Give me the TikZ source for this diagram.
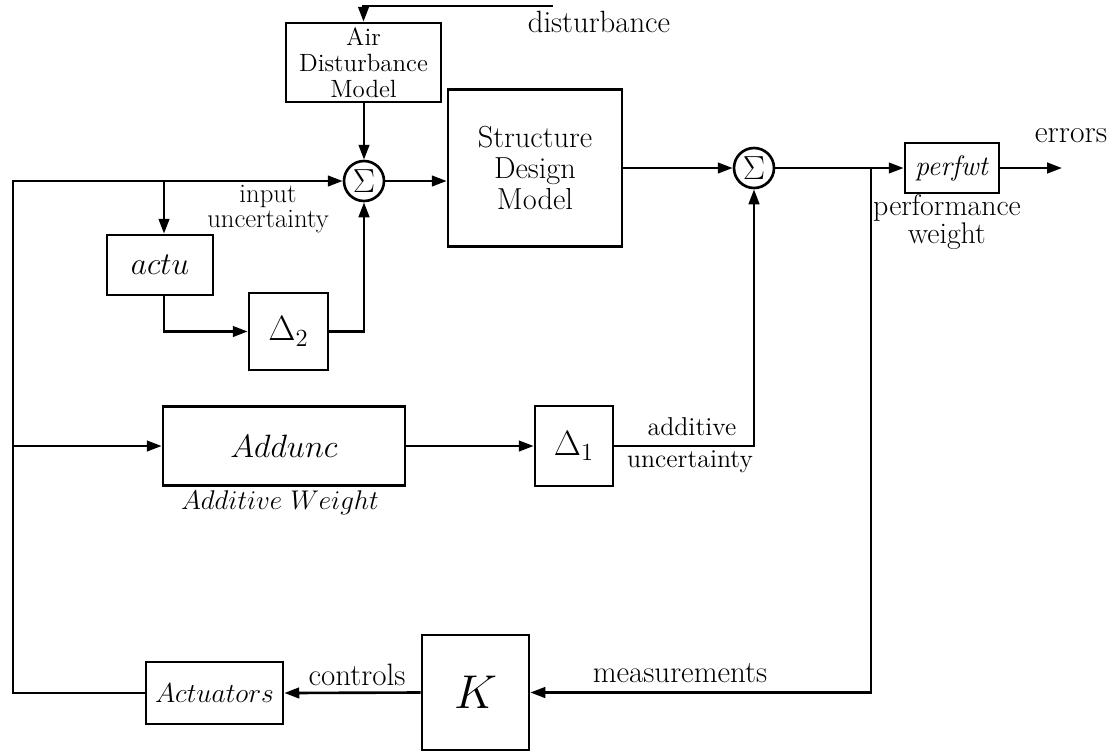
\RequirePackage{fix-cm}
\documentclass[tikz,border=0pt]{standalone}
\usetikzlibrary{arrows.meta,calc}
\newcommand\fs[2]{\fontsize{#1}{#2}\selectfont}
\begin{document}
\begin{tikzpicture}[x=0.02cm,y=-0.02cm,line width=1.5pt,
  blk/.style n args={2}{draw,line width=1.5pt,inner sep=0pt,minimum width=#1*0.02cm,minimum height=#2*0.02cm},
  sum/.style={circle,draw,line width=1.5pt,minimum size=40*0.02cm,inner sep=0pt,font=\fs{19}{19}},
  ar/.style={-{Triangle[length=8.5pt,width=6pt]}}]
\path[use as bounding box] (0,0) rectangle (1119,752);
% blocks
\node[blk={155}{79}, align=center, font=\fs{14.2}{14.8}] (air) at (363.5,62.5) {Air\\Disturbance\\Model};
\node[blk={174}{157}, align=center, font=\fs{17.3}{17.6}] (sdm) at (535,168) {Structure\\Design\\Model};
\node[sum] (s1) at (364,181) {$\Sigma$};
\node[sum] (s2) at (754,168) {$\Sigma$};
\node[blk={106}{60}, font=\fs{18}{18}] (actu) at (160,265) {$actu$};
\node[blk={79}{77}, font=\fs{20}{20}] (d2) at (288.5,331.5) {$\Delta_2$};
\node[blk={242}{79}, font=\fs{18.4}{18.4}] (add) at (284,446) {$Addunc$};
\node[blk={78}{80}, font=\fs{20}{20}] (d1) at (574,446) {$\Delta_1$};
\node[blk={94}{50}, font=\fs{16}{16}] (pw) at (952,168) {\textit{perfwt}};
\node[blk={137}{62}, font=\fs{15.6}{15.6}] (act) at (214.5,693) {$Actuators$};
\node[blk={107}{115}, font=\fs{27}{27}] (K) at (475.5,692.5) {$K$};
% labels
\node[font=\fs{17.5}{17.5}] (ldist) at (599,22) {disturbance};
\node[align=center,font=\fs{15.2}{14.2}] (lin) at (268,209) {input\\uncertainty};
\node[font=\fs{18}{18}] (lerr) at (1071,136) {errors};
\node[align=center,font=\fs{17}{14.5}] (lpw) at (947,222) {performance\\weight};
\node[font=\fs{14.7}{14.7}] (ladd) at (692,427) {additive};
\node[font=\fs{14.7}{14.7}] (lunc) at (690,462) {uncertainty};
\node[font=\fs{15.4}{15.4}] (law) at (280,503) {$Additive\ Weight$};
\node[font=\fs{17.6}{17.6}] (lctl) at (357,675) {controls};
\node[font=\fs{17.6}{17.6}] (lmeas) at (680,673) {measurements};
% coordinates
\coordinate (dstart) at (553,6);
\coordinate (L1) at (13,181);
\coordinate (L2) at (13,446);
\coordinate (L3) at (13,693);
\coordinate (b1) at (164,181);
\coordinate (b2) at (871,168);
\coordinate (eend) at (1062,168);
% connectors
\draw[ar] (dstart) -| (air.north);
\draw[ar] (s1.north|-air.south) -- (s1.north);
\draw[ar] (act.west) -- (L3) -- (L1) -- (s1.west);
\draw[ar] (L2) -- (add.west);
\draw[ar] (b1) -- (b1|-actu.north);
\draw[ar] (b1|-actu.south) |- (d2.west);
\draw[ar] (d2.east) -| (s1.south);
\draw[ar] (s1.east) -- (s1.east-|sdm.west);
\draw[ar] (s2.west-|sdm.east) -- (s2.west);
\draw[ar] (s2.east) -- (pw.west);
\draw[ar] (pw.east) -- (eend);
\draw[ar] (b2) |- (K.east);
\draw[ar] (K.west) -- (act.east);
\draw[ar] (add.east) -- (d1.west);
\draw[ar] (d1.east) -| (s2.south);
\end{tikzpicture}
\end{document}
